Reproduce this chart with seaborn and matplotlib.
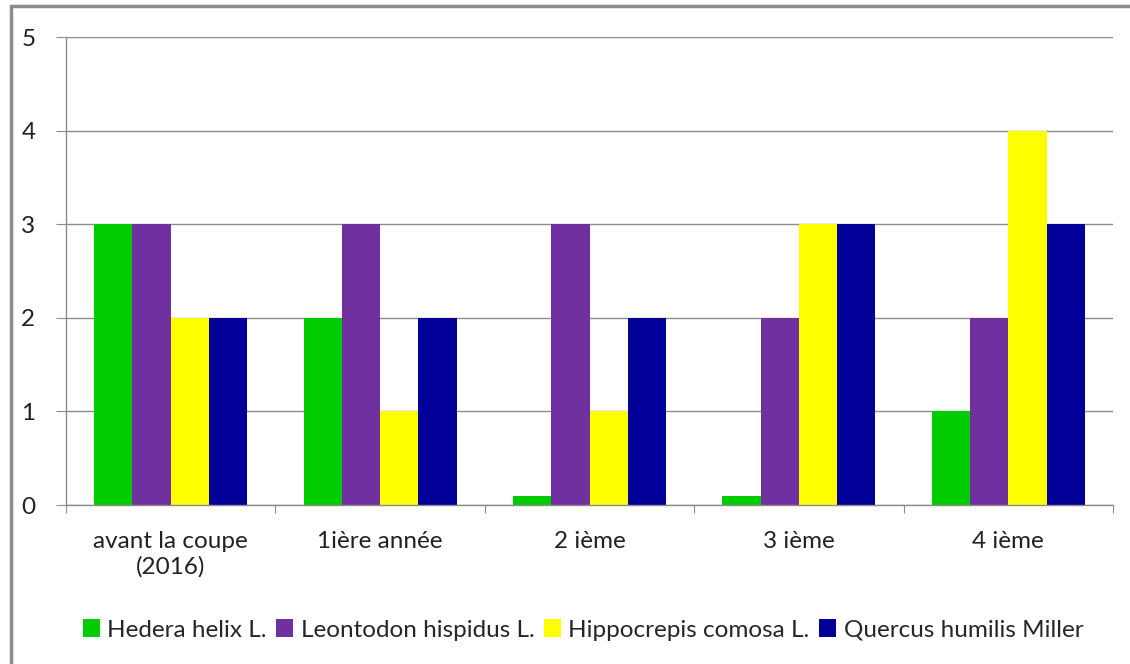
import pandas as pd
import matplotlib.pyplot as plt
import seaborn as sns
from matplotlib.lines import Line2D

periodes = ['avant la coupe\n(2016)', '1ière année', '2 ième', '3 ième', '4 ième']
especes = ['Hedera helix L.', 'Leontodon hispidus L.', 'Hippocrepis comosa L.', 'Quercus humilis Miller']
hedera = [3, 2, 0.1, 0.1, 1]
leontodon = [3, 3, 3, 2, 2]
hippocrepis = [2, 1, 1, 3, 4]
quercus = [2, 2, 2, 3, 3]
couleurs = ['#00CC00', '#7030A0', '#FFFF00', '#000099']

rows = []
for esp, vals in zip(especes, [hedera, leontodon, hippocrepis, quercus]):
    for p, v in zip(periodes, vals):
        rows.append({'Periode': p, 'Espece': esp, 'Valeur': v})
data = pd.DataFrame(rows)

sns.set_style('white')
plt.rcParams['font.family'] = ['Lato', 'DejaVu Sans']

fig = plt.figure(figsize=(11.3, 6.64), dpi=100)
ax = fig.add_axes([66 / 1130, 1 - 505 / 664, (1113 - 66) / 1130, (505 - 37) / 664])

sns.barplot(data=data, x='Periode', y='Valeur', hue='Espece', hue_order=especes,
            order=periodes, palette=couleurs, width=0.73, gap=0, saturation=1,
            edgecolor='none', linewidth=0, ax=ax)

ax.set_ylim(0, 5)
ax.set_xlim(-0.5, 4.5)
ax.set_yticks(range(6))
ax.yaxis.grid(True, color='#8C8C8C', linewidth=1)
ax.set_axisbelow(True)
ax.set_xlabel('')
ax.set_ylabel('')

ax.set_xticks([-0.5, 0.5, 1.5, 2.5, 3.5, 4.5])
ax.set_xticklabels([''] * 6)
ax.set_xticks(range(5), minor=True)
ax.set_xticklabels(periodes, minor=True, fontsize=17.5, color='#222222', linespacing=1.2)
ax.tick_params(axis='x', which='major', direction='out', length=6, color='#8C8C8C', bottom=True)
ax.tick_params(axis='x', which='minor', length=0, pad=19)
ax.tick_params(axis='y', direction='out', length=7, color='#8C8C8C', left=True,
               labelsize=17.5, labelcolor='#222222', pad=15)

for s in ['top', 'right']:
    ax.spines[s].set_visible(False)
for s in ['left', 'bottom']:
    ax.spines[s].set_color('#8C8C8C')
    ax.spines[s].set_linewidth(1)

handles, labels = ax.get_legend_handles_labels()
ax.legend(handles, labels, loc='center', bbox_to_anchor=(583 / 1130, 1 - 630 / 664),
          bbox_transform=fig.transFigure, ncol=4, frameon=False, fontsize=17.5,
          handlelength=0.7, handleheight=0.7, handletextpad=0.3, columnspacing=0.4)

fig.add_artist(Line2D([11 / 1130, 11 / 1130], [0, 1 - 6 / 664], color='#8C8C8C', linewidth=2.5))
fig.add_artist(Line2D([11 / 1130, 1], [1 - 6 / 664, 1 - 6 / 664], color='#8C8C8C', linewidth=2.5))

fig.savefig('out.png', dpi=100)
